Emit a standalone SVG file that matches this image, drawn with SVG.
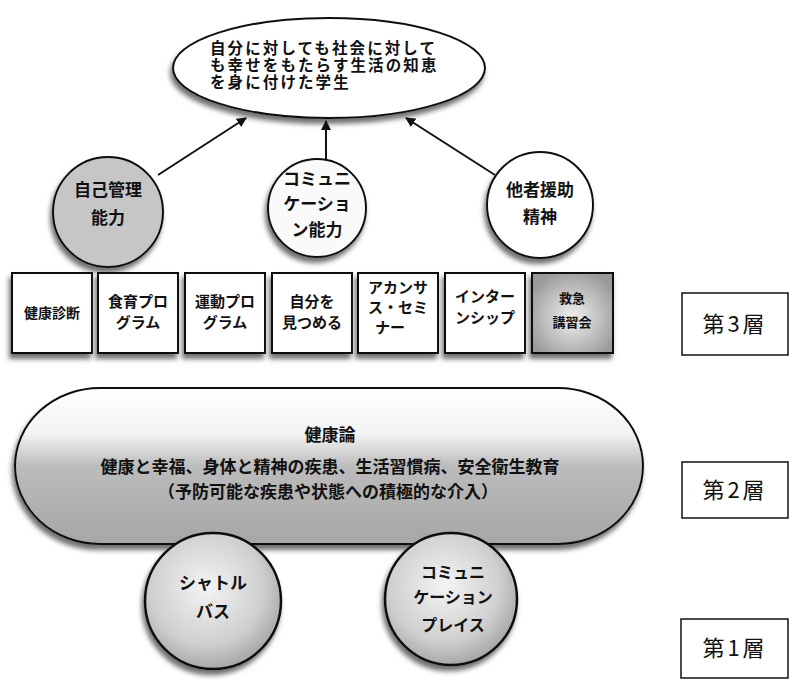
<svg xmlns="http://www.w3.org/2000/svg" width="789" height="680" viewBox="0 0 789 680">
<defs>
<style>
.t{font-family:"Noto Sans CJK JP","Noto Sans",sans-serif;font-weight:bold;fill:#111;text-anchor:middle}
.g{font-family:"Noto Sans CJK JP","Noto Sans",sans-serif;font-weight:bold;fill:#111;font-size:15.5px;letter-spacing:2.1px}
.lbl{font-family:"Noto Sans CJK JP","Noto Sans",sans-serif;font-size:22px;fill:#111;text-anchor:middle}
.ln{stroke:#111;stroke-width:2;fill:none}
.bx{stroke:#111;stroke-width:2}
</style>
<filter id="sh" x="-20%" y="-20%" width="140%" height="150%">
<feGaussianBlur in="SourceAlpha" stdDeviation="2.5"/>
<feOffset dx="-2" dy="5" result="b"/>
<feFlood flood-color="#707070"/>
<feComposite in2="b" operator="in"/>
<feMerge><feMergeNode/><feMergeNode in="SourceGraphic"/></feMerge>
</filter>
<linearGradient id="pill" x1="0" y1="0" x2="0" y2="1">
<stop offset="0" stop-color="#ffffff"/>
<stop offset="0.3" stop-color="#f2f2f2"/>
<stop offset="0.5" stop-color="#bcbcbc"/>
<stop offset="1" stop-color="#a6a6a6"/>
</linearGradient>
<radialGradient id="ball" cx="0.45" cy="0.4" r="0.6">
<stop offset="0" stop-color="#f4f4f4"/>
<stop offset="0.7" stop-color="#cfcfcf"/>
<stop offset="1" stop-color="#a8a8a8"/>
</radialGradient>
<radialGradient id="kyu" cx="0.5" cy="0.55" r="0.6">
<stop offset="0" stop-color="#efefef"/>
<stop offset="0.6" stop-color="#bdbdbd"/>
<stop offset="1" stop-color="#999"/>
</radialGradient>
<marker id="ah" viewBox="0 0 10 10" refX="9" refY="5" markerWidth="5" markerHeight="5" orient="auto">
<path d="M0,0 L10,5 L0,10 z" fill="#111"/>
</marker>
</defs>
<rect width="789" height="680" fill="#fff"/>

<g id="goal">
<ellipse cx="329" cy="68" rx="156" ry="50" fill="#fff" stroke="#111" stroke-width="2" filter="url(#sh)"/>
<text class="g" x="210" y="54">自分に対しても社会に対して</text>
<text class="g" x="210" y="71">も幸せをもたらす生活の知恵</text>
<text class="g" x="210" y="88">を身に付けた学生</text>
</g>

<g id="connectors">
<line class="ln" x1="158" y1="175" x2="246" y2="118" marker-end="url(#ah)"/>
<line class="ln" x1="326" y1="160" x2="326" y2="121" marker-end="url(#ah)"/>
<line class="ln" x1="495" y1="175" x2="406" y2="118" marker-end="url(#ah)"/>
</g>

<g id="c-self">
<circle cx="108" cy="212" r="55" fill="#c6c6c6" stroke="#111" stroke-width="2" filter="url(#sh)"/>
<text class="t" font-size="17" x="108" y="196">自己管理</text>
<text class="t" font-size="17" x="108" y="224">能力</text>
</g>
<g id="c-comm">
<circle cx="317" cy="208" r="49" fill="#fafafa" stroke="#111" stroke-width="2" filter="url(#sh)"/>
<text class="t" font-size="17" x="317" y="185">コミュニ</text>
<text class="t" font-size="17" x="317" y="210">ケーショ</text>
<text class="t" font-size="17" x="317" y="236">ン能力</text>
</g>
<g id="c-help">
<circle cx="540" cy="205" r="53" fill="#fff" stroke="#111" stroke-width="2" filter="url(#sh)"/>
<text class="t" font-size="17" x="540" y="196">他者援助</text>
<text class="t" font-size="17" x="540" y="223">精神</text>
</g>

<g id="b1"><rect class="bx" x="12" y="273" width="80" height="80" fill="#fff" filter="url(#sh)"/>
<text class="t" font-size="14" x="52" y="318">健康診断</text></g>
<g id="b2"><rect class="bx" x="98" y="273" width="80" height="80" fill="#fff" filter="url(#sh)"/>
<text class="t" font-size="15" x="138" y="307">食育プロ</text>
<text class="t" font-size="15" x="138" y="328">グラム</text></g>
<g id="b3"><rect class="bx" x="185" y="273" width="80" height="80" fill="#fff" filter="url(#sh)"/>
<text class="t" font-size="15" x="225" y="307">運動プロ</text>
<text class="t" font-size="15" x="225" y="328">グラム</text></g>
<g id="b4"><rect class="bx" x="272" y="273" width="80" height="80" fill="#fff" filter="url(#sh)"/>
<text class="t" font-size="15" x="312" y="307">自分を</text>
<text class="t" font-size="15" x="312" y="328">見つめる</text></g>
<g id="b5"><rect class="bx" x="358" y="273" width="80" height="80" fill="#fff" filter="url(#sh)"/>
<text class="t" font-size="15" x="398" y="293">アカンサ</text>
<text class="t" font-size="15" x="398" y="313">ス・セミ</text>
<text class="t" font-size="15" x="390" y="333">ナー</text></g>
<g id="b6"><rect class="bx" x="445" y="273" width="80" height="80" fill="#fff" filter="url(#sh)"/>
<text class="t" font-size="15" x="485" y="302">インター</text>
<text class="t" font-size="15" x="485" y="323">ンシップ</text></g>
<g id="b7"><rect class="bx" x="532" y="273" width="81" height="80" fill="url(#kyu)" filter="url(#sh)"/>
<text class="t" font-size="13" x="572" y="303">救急</text>
<text class="t" font-size="13" x="572" y="327">講習会</text></g>

<g id="health">
<rect x="15" y="388" width="628" height="156" rx="85" ry="78" fill="url(#pill)" stroke="#111" stroke-width="2" filter="url(#sh)"/>
<text class="t" font-size="17" x="330" y="441">健康論</text>
<text class="t" font-size="17" x="330" y="473">健康と幸福、身体と精神の疾患、生活習慣病、安全衛生教育</text>
<text class="t" font-size="17" x="328" y="498">（予防可能な疾患や状態への積極的な介入）</text>
</g>

<g id="shuttle">
<circle cx="213" cy="601" r="68" fill="url(#ball)" stroke="#111" stroke-width="2.5" filter="url(#sh)"/>
<text class="t" font-size="17" x="213" y="589">シャトル</text>
<text class="t" font-size="17" x="213" y="618">バス</text>
</g>
<g id="place">
<circle cx="451" cy="599" r="66" fill="url(#ball)" stroke="#111" stroke-width="2.5" filter="url(#sh)"/>
<text class="t" font-size="16" x="453" y="578">コミュニ</text>
<text class="t" font-size="16" x="453" y="603">ケーション</text>
<text class="t" font-size="16" x="453" y="631">プレイス</text>
</g>

<g id="layer3"><rect x="682" y="293" width="106" height="62" fill="#fff" stroke="#111" stroke-width="1.5"/>
<text class="lbl" x="735" y="332" letter-spacing="3">第3層</text></g>
<g id="layer2"><rect x="682" y="462" width="106" height="56" fill="#fff" stroke="#111" stroke-width="1.5"/>
<text class="lbl" x="735" y="498" letter-spacing="3">第2層</text></g>
<g id="layer1"><rect x="681" y="619" width="107" height="59" fill="#fff" stroke="#111" stroke-width="1.5"/>
<text class="lbl" x="735" y="656" letter-spacing="3">第1層</text></g>
</svg>
